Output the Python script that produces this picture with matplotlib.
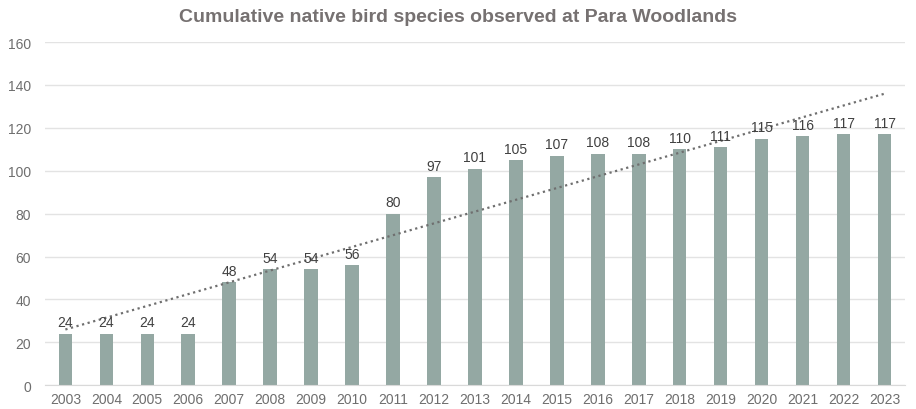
import numpy as np
import matplotlib
matplotlib.use("Agg")
import matplotlib.pyplot as plt

years = [str(y) for y in range(2003, 2024)]
species = [24, 24, 24, 24, 48, 54, 54, 56, 80, 97, 101, 105, 107, 108, 108,
           110, 111, 115, 116, 117, 117]
y_ticks = [0, 20, 40, 60, 80, 100, 120, 140, 160]

plt.rcParams['font.family'] = ['Liberation Sans', 'DejaVu Sans']

fig = plt.figure(figsize=(9.16, 4.10), dpi=100)
ax = fig.add_axes([0.049, 0.058, 0.939, 0.837])

x = np.arange(len(years))
ax.bar(x, species, width=0.33, color='#94a8a3', zorder=2)
for xi, v in zip(x, species):
    ax.text(xi, v + 2, str(v), ha='center', va='bottom', fontsize=10,
            color='#404040', zorder=4)

# linear trendline
coef = np.polyfit(x, species, 1)
ax.plot(x, np.polyval(coef, x), linestyle=(0, (1, 1.6)), color='#6f6f6f',
        linewidth=1.6, zorder=3)

ax.set_xlim(-0.5, len(years) - 0.5)
ax.set_ylim(0, 160)
ax.set_yticks(y_ticks)
ax.set_xticks(x)
ax.set_xticklabels(years)
ax.tick_params(axis='both', length=0, labelsize=10, colors='#6e6e6e')
ax.tick_params(axis='x', pad=5)
ax.tick_params(axis='y', pad=10)
ax.grid(axis='y', color='#e3e3e3', linewidth=1, zorder=0)
for s in ['top', 'right', 'left']:
    ax.spines[s].set_visible(False)
ax.spines['bottom'].set_color('#d9d9d9')

fig.text(0.5, 0.958, 'Cumulative native bird species observed at Para Woodlands',
         ha='center', va='center', fontsize=14, fontweight='bold', color='#767171')

fig.savefig('out.png', dpi=100)
